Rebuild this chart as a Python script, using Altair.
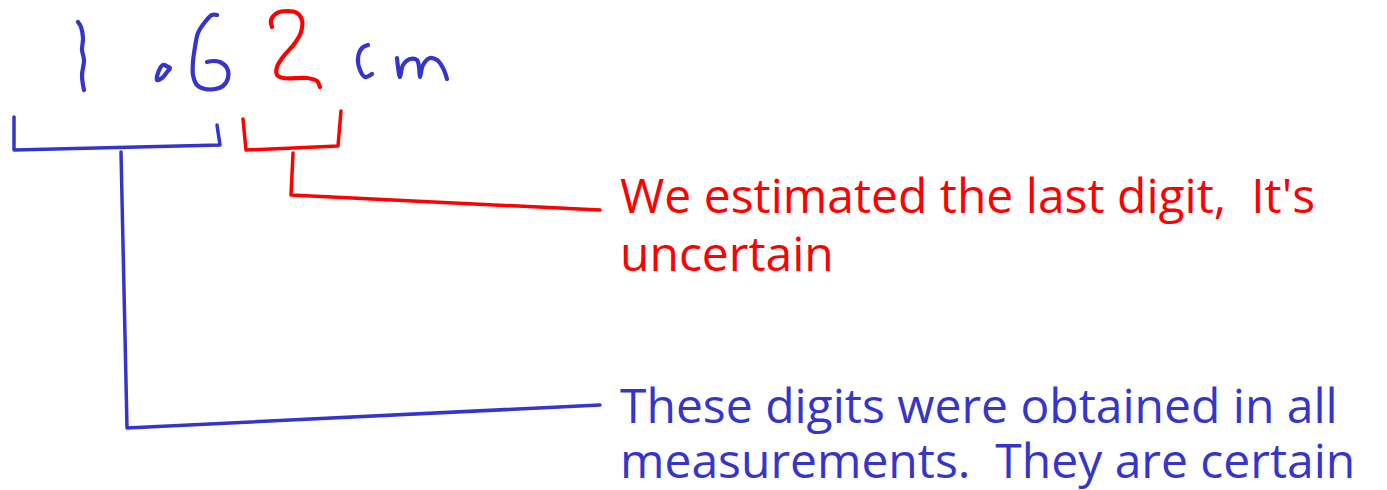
import altair as alt
import pandas as pd

BLUE = "#3535CC"
RED = "#FF0000"

# Hand-drawn strokes (image pixel coordinates)
digit_one = [(78, 22), (81, 27), (83, 38), (82, 50), (84, 60), (82, 75), (83, 85), (84, 90)]
decimal_dot = [(168, 67), (163, 65), (158, 73), (157, 80), (162, 78), (167, 72), (170, 68), (166, 66)]
digit_six = [(217, 15), (212, 15), (205, 22), (198, 33), (195, 47), (193, 62), (193, 75), (197, 85),
             (205, 89), (215, 89), (223, 86), (228, 78), (227, 68), (220, 62), (213, 61), (207, 62)]
digit_two = [(272, 27), (271, 20), (277, 13), (287, 11), (297, 13), (302, 20), (301, 32), (295, 43),
             (283, 57), (277, 67), (277, 75), (283, 78), (307, 78), (317, 81), (320, 87)]
letter_c = [(368, 45), (362, 48), (358, 58), (360, 70), (365, 77), (372, 74)]
letter_m = [(397, 58), (398, 67), (400, 77), (403, 65), (410, 59), (417, 60), (419, 67), (420, 77),
            (423, 65), (430, 58), (437, 60), (443, 68), (447, 79)]

# Brackets and leader lines
blue_bracket = [(14, 117), (14, 150), (220, 145), (217, 125)]
red_bracket = [(243, 119), (246, 150), (338, 146), (341, 111)]
blue_leader = [(121, 152), (127, 428), (600, 405)]
red_leader = [(293, 153), (291, 195), (600, 210)]

# Annotation text
text_lines = ["We estimated the last digit,\u00a0 It's", "uncertain",
              "These digits were obtained in all", "measurements.\u00a0 They are certain"]
text_x = [620, 620, 620, 620]
text_y = [213, 271, 423, 478]
text_colors = [RED, RED, BLUE, BLUE]

hand = [("one", digit_one, BLUE), ("dot", decimal_dot, BLUE), ("six", digit_six, BLUE),
        ("two", digit_two, RED), ("c", letter_c, BLUE), ("m", letter_m, BLUE)]
rules = [("bb", blue_bracket, BLUE), ("rb", red_bracket, RED),
         ("bl", blue_leader, BLUE), ("rl", red_leader, RED)]


def to_df(strokes):
    rows = []
    for sid, pts, col in strokes:
        for i, (x, y) in enumerate(pts):
            rows.append({"sid": sid, "i": i, "x": x, "y": y, "c": col})
    return pd.DataFrame(rows)


hand_df = to_df(hand)
rule_df = to_df(rules)
text_df = pd.DataFrame({"t": text_lines, "x": text_x, "y": text_y, "c": text_colors})

W, H = 1371, 482
xs = alt.X("x:Q", scale=alt.Scale(domain=[8, 8 + W], nice=False, zero=False), axis=None)
ys = alt.Y("y:Q", scale=alt.Scale(domain=[8, 8 + H], nice=False, zero=False, reverse=True), axis=None)

hand_layer = alt.Chart(hand_df).mark_line(
    strokeWidth=4.2, strokeCap="round", strokeJoin="round", interpolate="catmull-rom"
).encode(x=xs, y=ys, detail="sid:N", order="i:Q", color=alt.Color("c:N", scale=None))

rule_layer = alt.Chart(rule_df).mark_line(
    strokeWidth=3.5, strokeCap="round", strokeJoin="round"
).encode(x=xs, y=ys, detail="sid:N", order="i:Q", color=alt.Color("c:N", scale=None))

text_layer = alt.Chart(text_df).mark_text(
    align="left", baseline="alphabetic", font="Open Sans", fontSize=48
).encode(x=xs, y=ys, text="t:N", color=alt.Color("c:N", scale=None))

chart = alt.layer(rule_layer, hand_layer, text_layer).properties(
    width=W, height=H, padding=0, background="white",
    autosize=alt.AutoSizeParams(type="none")
).configure_view(strokeWidth=0, stroke="transparent")

chart.save("out.html", embed_options={"renderer": "svg", "actions": False})
